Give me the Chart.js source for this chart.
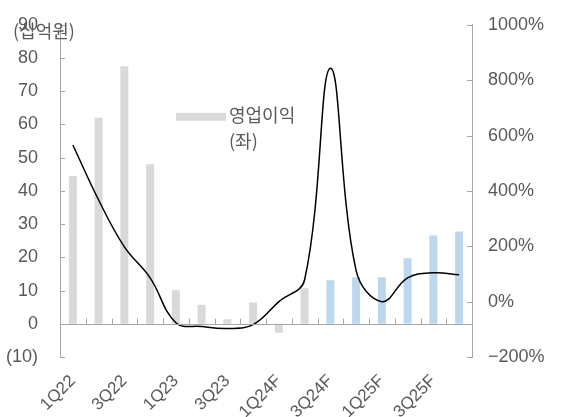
<!DOCTYPE html>
<html>
<head>
<meta charset="utf-8">
<script src="https://cdn.jsdelivr.net/npm/chart.js@4"></script>
<style>
  html, body { margin: 0; padding: 0; background: #fff; }
  #wrap { width: 567px; height: 417px; }
</style>
</head>
<body>
<div id="wrap"><canvas id="chart"></canvas></div>
<script>
const quarters = ['1Q22', '2Q22', '3Q22', '4Q22', '1Q23', '2Q23', '3Q23', '4Q23',
  '1Q24F', '2Q24F', '3Q24F', '4Q24F', '1Q25F', '2Q25F', '3Q25F', '4Q25F'];
const opProfit = [44.5, 62, 77.5, 48, 10.1, 5.7, 1.4, 6.4, -2.7, 10.7, 13.1, 14, 14, 19.7, 26.6, 27.8];
const yoyGrowth = [566, 367, 198, 86, -76, -90, -97, -83, 0, 79, 843, 112, 0, 86, 104, 97];
const forecastFrom = 10; // 3Q24F부터 파란색
const legendLines = ['영업이익', '(좌)'];
const unitLabel = '(십억원)';

const FONT = '"Liberation Sans", "Noto Sans CJK KR", sans-serif';
const TEXT = '#595959';
const AXIS = '#a6a6a6';

const barColors = opProfit.map((v, i) => i >= forecastFrom ? '#bdd7ee' : '#d9d9d9');

const axisDecor = {
  id: 'axisDecor',
  afterDatasetsDraw(chart) {
    const ctx = chart.ctx;
    const area = chart.chartArea;
    const x = chart.scales.x, y = chart.scales.y, y1 = chart.scales.y1;
    ctx.save();
    ctx.strokeStyle = AXIS;
    ctx.lineWidth = 1;
    // zero line
    const y0 = Math.round(y.getPixelForValue(0)) + 0.5;
    ctx.beginPath();
    ctx.moveTo(area.left, y0);
    ctx.lineTo(area.right, y0);
    // category boundary ticks
    for (let i = 1; i < quarters.length; i++) {
      const bx = Math.round((x.getPixelForValue(i - 1) + x.getPixelForValue(i)) / 2) + 0.5;
      ctx.moveTo(bx, y0);
      ctx.lineTo(bx, y0 - 6);
    }
    // left inward ticks
    y.ticks.forEach(t => {
      const py = Math.round(y.getPixelForValue(t.value)) + 0.5;
      ctx.moveTo(area.left, py);
      ctx.lineTo(area.left + 5, py);
    });
    // right inward ticks
    y1.ticks.forEach(t => {
      const py = Math.round(y1.getPixelForValue(t.value)) + 0.5;
      ctx.moveTo(area.right, py);
      ctx.lineTo(area.right - 5, py);
    });
    ctx.stroke();
    ctx.restore();
  },
  afterDraw(chart) {
    const ctx = chart.ctx;
    const area = chart.chartArea;
    ctx.save();
    // unit label
    ctx.fillStyle = TEXT;
    ctx.font = '18px "Noto Sans CJK KR", sans-serif';
    ctx.textBaseline = 'middle';
    ctx.textAlign = 'left';
    ctx.fillText(unitLabel, 13, 31);
    // legend
    const lx = area.left + 116, ly = area.top + 88;
    ctx.fillStyle = '#d9d9d9';
    ctx.fillRect(lx, ly, 50, 8);
    ctx.fillStyle = TEXT;
    ctx.fillText(legendLines[0], lx + 53, ly + 2);
    ctx.fillText(legendLines[1], lx + 53, ly + 28);
    ctx.restore();
  }
};

new Chart(document.getElementById('chart'), {
  data: {
    labels: quarters,
    datasets: [
      {
        type: 'line',
        label: 'YoY',
        data: yoyGrowth,
        yAxisID: 'y1',
        borderColor: '#000',
        borderWidth: 1.5,
        pointRadius: 0,
        tension: 0.4,
        fill: false,
        order: 0
      },
      {
        type: 'bar',
        label: '영업이익',
        data: opProfit,
        yAxisID: 'y',
        backgroundColor: barColors,
        categoryPercentage: 1,
        barPercentage: 0.31,
        order: 1
      }
    ]
  },
  options: {
    responsive: true,
    maintainAspectRatio: false,
    animation: false,
    layout: { padding: { top: 22, left: 0, right: 0, bottom: 0 } },
    plugins: {
      legend: { display: false },
      tooltip: { enabled: false }
    },
    scales: {
      x: {
        offset: true,
        grid: { display: false },
        border: { display: false },
        ticks: {
          autoSkip: false,
          maxRotation: 45,
          minRotation: 45,
          padding: 6,
          color: TEXT,
          font: { family: FONT, size: 17 },
          callback: (v, i) => i % 2 === 0 ? quarters[i] : ''
        },
        afterFit: s => { s.height = 60; }
      },
      y: {
        position: 'left',
        min: -10,
        max: 90,
        grid: { display: false },
        border: { display: true, color: AXIS },
        ticks: {
          stepSize: 10,
          padding: 14,
          color: TEXT,
          font: { family: FONT, size: 18 },
          callback: v => v < 0 ? '(' + (-v) + ')' : v
        },
        afterFit: s => { s.width = 60; }
      },
      y1: {
        position: 'right',
        min: -200,
        max: 1000,
        grid: { display: false },
        border: { display: true, color: AXIS },
        ticks: {
          stepSize: 200,
          padding: 8,
          color: TEXT,
          font: { family: FONT, size: 18 },
          callback: v => (v < 0 ? '\u2212' + (-v) : v) + '%'
        },
        afterFit: s => { s.width = 95; }
      }
    }
  },
  plugins: [axisDecor]
});
</script>
</body>
</html>
